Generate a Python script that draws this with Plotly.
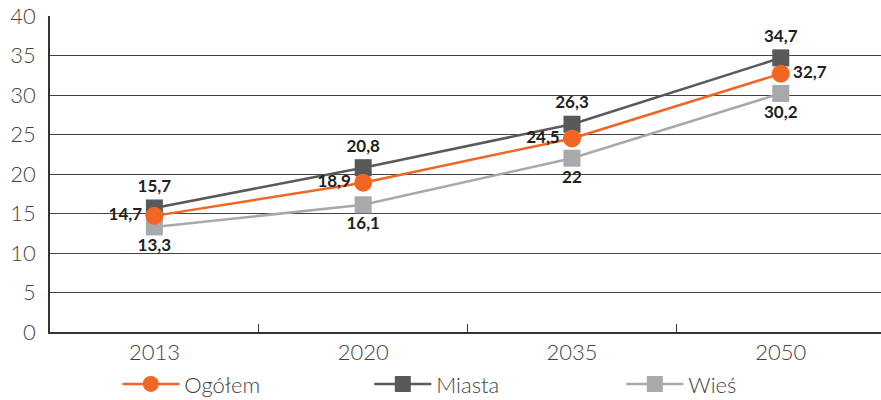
import plotly.graph_objects as go

years = ["2013", "2020", "2035", "2050"]
ogolem = [14.7, 18.9, 24.5, 32.7]
miasta = [15.7, 20.8, 26.3, 34.7]
wies = [13.3, 16.1, 22.0, 30.2]

def fmt(v):
    s = ("%g" % v).replace(".", ",")
    return s

ORANGE = "#F26522"
DARK = "#58595B"
LIGHT = "#A7A9AC"
LABEL_FONT = dict(family="Lato", size=17, color="#231F20", weight=700)

fig = go.Figure()
fig.add_trace(go.Scatter(
    x=years, y=wies, name="Wieś", mode="lines+markers+text",
    line=dict(color=LIGHT, width=2.5),
    marker=dict(symbol="square", size=17, color=LIGHT),
    text=[fmt(v) for v in wies], textposition="bottom center",
    textfont=LABEL_FONT, legendrank=3))
fig.add_trace(go.Scatter(
    x=years, y=miasta, name="Miasta", mode="lines+markers+text",
    line=dict(color=DARK, width=2.5),
    marker=dict(symbol="square", size=17, color=DARK),
    text=[fmt(v) for v in miasta], textposition="top center",
    textfont=LABEL_FONT, legendrank=2))
fig.add_trace(go.Scatter(
    x=years, y=ogolem, name="Ogółem", mode="lines+markers+text",
    line=dict(color=ORANGE, width=2.5),
    marker=dict(symbol="circle", size=18, color=ORANGE),
    text=[fmt(v) for v in ogolem],
    textposition=["middle left", "middle left", "middle left", "middle right"],
    textfont=LABEL_FONT, legendrank=1))

fig.update_layout(
    width=881, height=400,
    margin=dict(l=50, r=0, t=16, b=68, autoexpand=False),
    plot_bgcolor="white", paper_bgcolor="white",
    font=dict(family="Lato", color="#444444"),
    showlegend=True,
    legend=dict(orientation="h", x=0.081, xanchor="left", y=-0.165, yanchor="middle",
                font=dict(family="Lato", size=22, color="#444444", weight=300),
                entrywidth=180, entrywidthmode="pixels", itemwidth=57,
                tracegroupgap=0, bgcolor="rgba(0,0,0,0)"),
    xaxis=dict(type="category", range=[-0.5, 3.48], showgrid=False,
               showline=True, linecolor="#333333", linewidth=1.5,
               ticks="inside", ticklen=8, tickcolor="#333333", tickson="boundaries",
               tickfont=dict(family="Lato", size=22, color="#444444", weight=300)),
    yaxis=dict(range=[0, 40], dtick=5, showgrid=True, gridcolor="#444444", gridwidth=1,
               showline=True, linecolor="#333333", linewidth=1.5, zeroline=False,
               ticks="", ticklabelstandoff=8,
               tickfont=dict(family="Lato", size=22, color="#444444", weight=300)),
)

fig.write_html("out.html")
